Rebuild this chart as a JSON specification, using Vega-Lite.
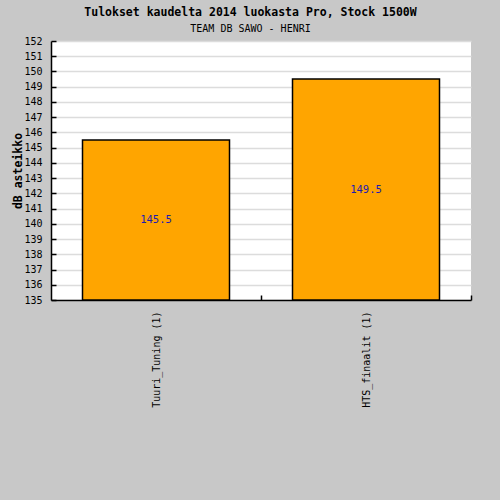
{
  "$schema": "https://vega.github.io/schema/vega-lite/v6.json",
  "autosize": "none",
  "width": 420,
  "height": 259,
  "padding": {"left": 51, "top": 41, "right": 29, "bottom": 200},
  "background": "#c8c8c8",
  "title": {
    "text": "Tulokset kaudelta 2014 luokasta Pro, Stock 1500W",
    "subtitle": "TEAM DB SAWO - HENRI",
    "anchor": "middle",
    "frame": "group",
    "dx": -10.5,
    "offset": 2,
    "font": "DejaVu Sans Mono",
    "fontSize": 11.5,
    "fontWeight": "bold",
    "color": "#000000",
    "subtitleFont": "DejaVu Sans Mono",
    "subtitleFontSize": 10,
    "subtitleColor": "#000000",
    "subtitlePadding": 6
  },
  "data": {
    "values": [
      {"team": "Tuuri_Tuning (1)", "value": 145.5},
      {"team": "HTS_finaalit (1)", "value": 149.5}
    ]
  },
  "config": {
    "view": {"fill": "#ffffff", "stroke": null},
    "axis": {
      "labelFont": "DejaVu Sans Mono",
      "labelFontSize": 10,
      "labelColor": "#000000",
      "domainColor": "#000000",
      "domainWidth": 1.5,
      "tickColor": "#000000",
      "tickWidth": 1.5,
      "titleColor": "#000000"
    }
  },
  "layer": [
    {
      "mark": {"type": "bar", "fill": "#ffa500", "stroke": "#000000", "strokeWidth": 1.5},
      "encoding": {
        "x": {
          "field": "team",
          "type": "nominal",
          "sort": null,
          "scale": {"paddingInner": 0.3, "paddingOuter": 0.15},
          "axis": {
            "title": null,
            "labelAngle": -90,
            "labelAlign": "right",
            "labelBaseline": "middle",
            "tickSize": -5,
            "tickOffset": 105,
            "labelOffset": -105,
            "labelPadding": 16,
            "grid": false
          }
        },
        "y": {
          "field": "value",
          "type": "quantitative",
          "scale": {"domain": [135, 152], "zero": false, "nice": false},
          "axis": {
            "title": "dB asteikko",
            "titleFont": "DejaVu Sans Mono",
            "titleFontSize": 11.5,
            "titleFontWeight": "bold",
            "titleAngle": -90,
            "titleX": -33,
            "titleY": 129.5,
            "titleAlign": "center",
            "titleBaseline": "middle",
            "values": [135,136,137,138,139,140,141,142,143,144,145,146,147,148,149,150,151,152],
            "tickCount": 30,
            "format": "d",
            "labelOverlap": false,
            "tickSize": -5,
            "labelPadding": 14,
            "grid": true,
            "gridColor": "#dcdcdc",
            "gridWidth": 1.5
          }
        },
        "y2": {"datum": 135}
      }
    },
    {
      "transform": [{"calculate": "(datum.value + 135) / 2", "as": "mid"}],
      "mark": {"type": "text", "font": "DejaVu Sans Mono", "fontSize": 10.5, "color": "#1c1cb0", "baseline": "middle", "align": "center"},
      "encoding": {
        "x": {"field": "team", "type": "nominal", "sort": null},
        "y": {"field": "mid", "type": "quantitative"},
        "text": {"field": "value", "type": "quantitative", "format": ".1f"}
      }
    }
  ]
}
